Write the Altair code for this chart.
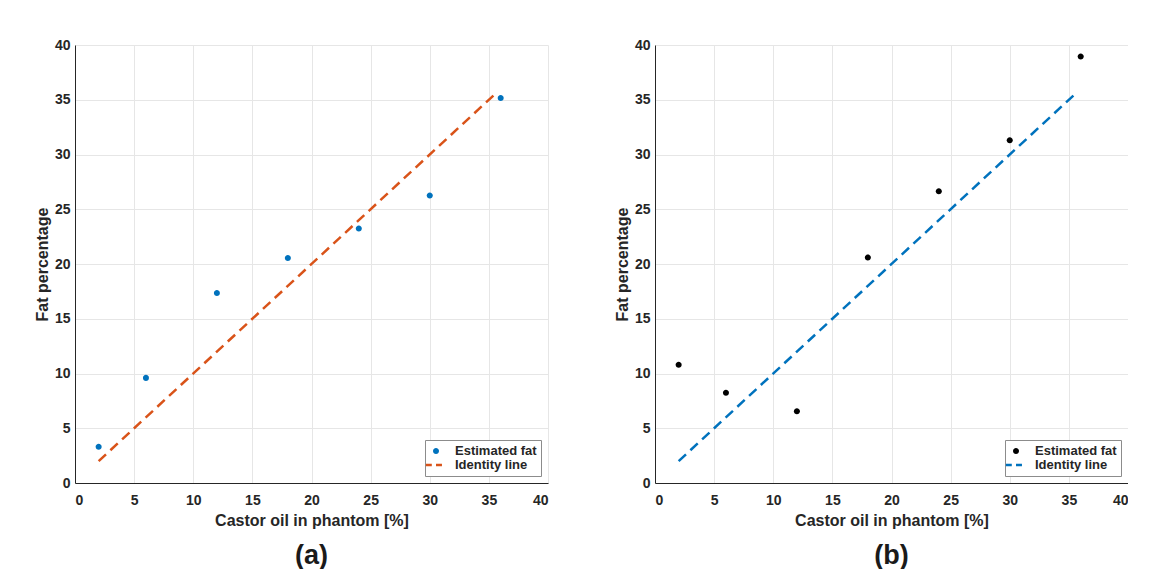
import altair as alt
import pandas as pd

castor_pct = [2, 6, 12, 18, 24, 30, 36]
fat_a = [3.3, 9.6, 17.35, 20.55, 23.25, 26.25, 35.15]
fat_b = [10.8, 8.25, 6.55, 20.6, 26.65, 31.3, 38.95]
identity_x = [2, 35.6]
series_names = ["Estimated fat", "Identity line"]
x_ticks = [0, 5, 10, 15, 20, 25, 30, 35, 40]
y_ticks = [0, 5, 10, 15, 20, 25, 30, 35, 40]

FONT = "Liberation Sans"
TXT = "#262626"

DOT = "M0.43,0A0.43,0.43 0 1,1 -0.43,0A0.43,0.43 0 1,1 0.43,0Z"
DASH = "M-1.45,-0.18H-0.6V0.18H-1.45Z M0.0,-0.18H0.85V0.18H0.0Z"


def panel(fat, point_color, line_color, label):
    pts = pd.DataFrame({"x": castor_pct, "y": fat, "series": series_names[0]})
    idl = pd.DataFrame({"x": identity_x, "y": identity_x})
    xenc = alt.X("x:Q", scale=alt.Scale(domain=[0, 40], nice=False),
                 axis=alt.Axis(values=x_ticks, title="Castor oil in phantom [%]"))
    yenc = alt.Y("y:Q", scale=alt.Scale(domain=[0, 40], nice=False),
                 axis=alt.Axis(values=y_ticks, title="Fat percentage"))
    legend = alt.Legend(
        title=None, orient="bottom-right", offset=7,
        fillColor="white", strokeColor="#8c8c8c", padding=4,
        labelFont=FONT, labelFontSize=13, labelFontWeight="bold", labelColor=TXT,
        labelOffset=12, rowPadding=0, symbolSize=196, symbolStrokeWidth=0,
    )
    color = alt.Color("series:N",
                      scale=alt.Scale(domain=series_names, range=[point_color, line_color]),
                      legend=legend)
    shape = alt.Shape("series:N",
                      scale=alt.Scale(domain=series_names, range=[DOT, DASH]),
                      legend=legend)
    line = alt.Chart(idl).mark_line(strokeDash=[10, 6], strokeWidth=2.5,
                                    color=line_color).encode(x=xenc, y=yenc)
    point = alt.Chart(pts).mark_point(filled=True, size=196, opacity=1,
                                      strokeWidth=0).encode(
        x=xenc, y=yenc, color=color, shape=shape)
    return alt.layer(line, point).properties(
        width=473, height=438,
        title=alt.TitleParams(label, orient="bottom", fontSize=27, fontWeight="bold",
                              font=FONT, color="#1a1a1a", offset=15, anchor="middle",
                              frame="group"),
    )


a = panel(fat_a, "#0072BD", "#D95319", "(a)")
b = panel(fat_b, "#000000", "#0072BD", "(b)")

chart = alt.hconcat(a, b, spacing=66).resolve_scale(
    color="independent", shape="independent").properties(
    padding={"left": 26, "top": 30, "right": 0, "bottom": 0},
    background="white",
).configure_view(stroke=None).configure_axis(
    grid=True, gridColor="#e6e6e6", gridWidth=1,
    domainColor="#262626", domainWidth=1,
    ticks=False,
    labelFont=FONT, labelFontSize=14, labelFontWeight="bold", labelColor=TXT,
    titleFont=FONT, titleFontSize=16, titleFontWeight="bold", titleColor=TXT,
).configure_axisX(labelPadding=10, titlePadding=5).configure_axisY(
    labelPadding=5, titlePadding=4)

chart.save("out.html", embed_options={"renderer": "svg", "actions": False})
